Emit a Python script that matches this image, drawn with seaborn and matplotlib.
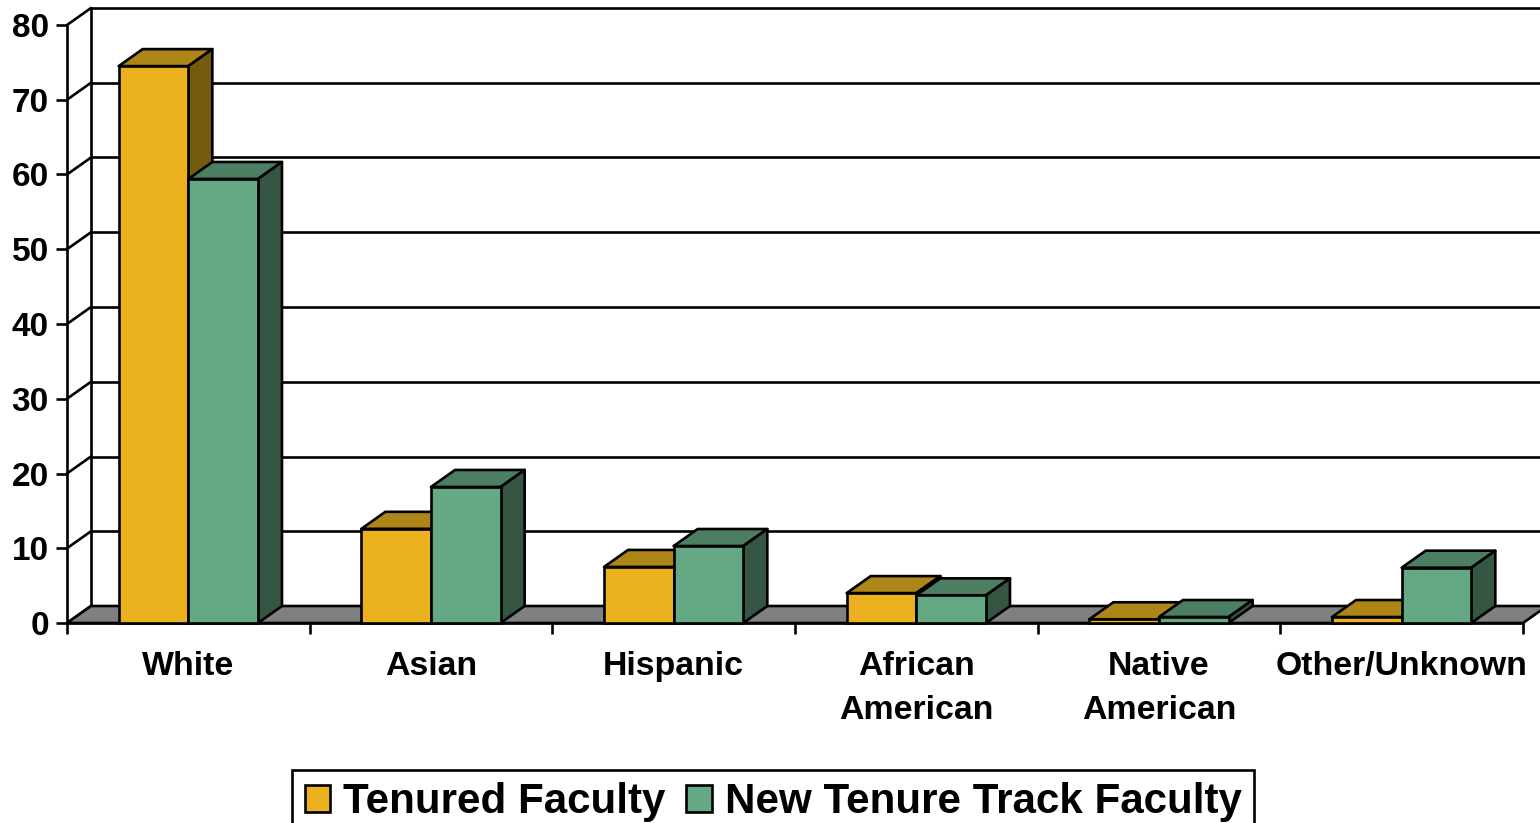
import matplotlib
matplotlib.use("Agg")
import matplotlib.pyplot as plt
from matplotlib.patches import Polygon
import pandas as pd
import seaborn as sns

categories = ["White", "Asian", "Hispanic", "African\nAmerican", "Native\nAmerican", "Other/Unknown"]
tenured = [74.5, 12.6, 7.5, 4.0, 0.5, 0.8]
new_track = [59.4, 18.2, 10.3, 3.7, 0.8, 7.4]
series_names = ["Tenured Faculty", "New Tenure Track Faculty"]
y_ticks = [0, 10, 20, 30, 40, 50, 60, 70, 80]

front_colors = ["#EBB11E", "#64A884"]
top_colors = ["#AE8517", "#4B7E63"]
side_colors = ["#765A0F", "#345642"]

W, H = 1540, 823
sns.set_theme(style="white")
plt.rcParams["font.family"] = ["Liberation Sans", "DejaVu Sans"]
plt.rcParams["font.weight"] = "bold"

fig = plt.figure(figsize=(W / 100, H / 100), dpi=100, facecolor="white")
ax = fig.add_axes([67 / W, 1 - 623 / H, (1523 - 67) / W, (623 - 25) / H])

LW = 1.9
df = pd.DataFrame({
    "category": categories * 2,
    "series": [series_names[0]] * len(categories) + [series_names[1]] * len(categories),
    "value": tenured + new_track,
})
sns.barplot(data=df, x="category", y="value", hue="series", hue_order=series_names,
            palette=front_colors, width=0.574, gap=0, errorbar=None, ax=ax,
            edgecolor="black", linewidth=LW, saturation=1, legend=True)

xmin, xmax = -0.5, len(categories) - 0.5
ymax = 80
ax.set_xlim(xmin, xmax)
ax.set_ylim(0, ymax)
dx = 24 / ((1523 - 67) / len(categories))
dy = 17 / ((623 - 25) / ymax)

# floor and back wall
ax.add_patch(Polygon([(xmin, 0), (xmax, 0), (xmax + dx, dy), (xmin + dx, dy)], closed=True,
                     facecolor="#808080", edgecolor="black", lw=LW, zorder=1, clip_on=False))
for v in y_ticks:
    if v > 0:
        ax.plot([xmin + dx, xmax + dx], [v + dy, v + dy], color="black", lw=LW, zorder=0.5,
                clip_on=False, solid_capstyle="butt")
    ax.plot([xmin, xmin + dx], [v, v + dy], color="black", lw=LW, zorder=0.6, clip_on=False)
ax.plot([xmin + dx, xmin + dx], [dy, ymax + dy], color="black", lw=LW, zorder=0.6, clip_on=False)

# extruded faces of each bar, computed from seaborn's own bars
z = 2
for s, container in enumerate(ax.containers[:2]):
    for bar in container:
        x0, w, h = bar.get_x(), bar.get_width(), bar.get_height()
        x1 = x0 + w
        ax.add_patch(Polygon([(x0, h), (x1, h), (x1 + dx, h + dy), (x0 + dx, h + dy)], closed=True,
                             facecolor=top_colors[s], edgecolor="black", lw=LW, zorder=z,
                             clip_on=False, joinstyle="round"))
        ax.add_patch(Polygon([(x1, 0), (x1 + dx, dy), (x1 + dx, h + dy), (x1, h)], closed=True,
                             facecolor=side_colors[s], edgecolor="black", lw=LW, zorder=z,
                             clip_on=False, joinstyle="round"))
        bar.set_zorder(z + 0.1)
        bar.set_clip_on(False)
        z += 1

for side in ("top", "right"):
    ax.spines[side].set_visible(False)
for side in ("left", "bottom"):
    ax.spines[side].set_visible(True)
    ax.spines[side].set_color("black")
    ax.spines[side].set_linewidth(LW)
    ax.spines[side].set_zorder(1.5)

ax.set_xlabel("")
ax.set_ylabel("")
ax.set_yticks(y_ticks)
ax.set_xticks(range(len(categories)))
ax.set_xticklabels(categories, fontsize=24.4, fontweight="bold", color="black", linespacing=1.56)
ax.set_xticks([xmin + i for i in range(len(categories) + 1)], minor=True)
ax.tick_params(axis="y", which="major", left=True, length=8, width=LW, color="black", pad=5,
               labelsize=24, labelcolor="black")
ax.tick_params(axis="x", which="major", bottom=False, length=0, pad=20)
ax.tick_params(axis="x", which="minor", bottom=True, length=8, width=LW, color="black")
for lab in ax.get_yticklabels():
    lab.set_fontweight("bold")

handles, labels = ax.get_legend_handles_labels()
ax.get_legend().remove()
leg = fig.legend(handles, labels, ncol=2, loc="lower left",
                 bbox_to_anchor=(292 / W, -12 / H), frameon=True, fancybox=False,
                 edgecolor="black", framealpha=1, borderpad=0.3, borderaxespad=0,
                 handlelength=0.6, handleheight=0.6, handletextpad=0.31, columnspacing=0.5,
                 prop={"family": "Liberation Sans", "weight": "bold", "size": 30.3})
leg.get_frame().set_linewidth(LW)
for t in leg.get_texts():
    t.set_color("black")

fig.savefig("out.png", dpi=100, facecolor="white")
